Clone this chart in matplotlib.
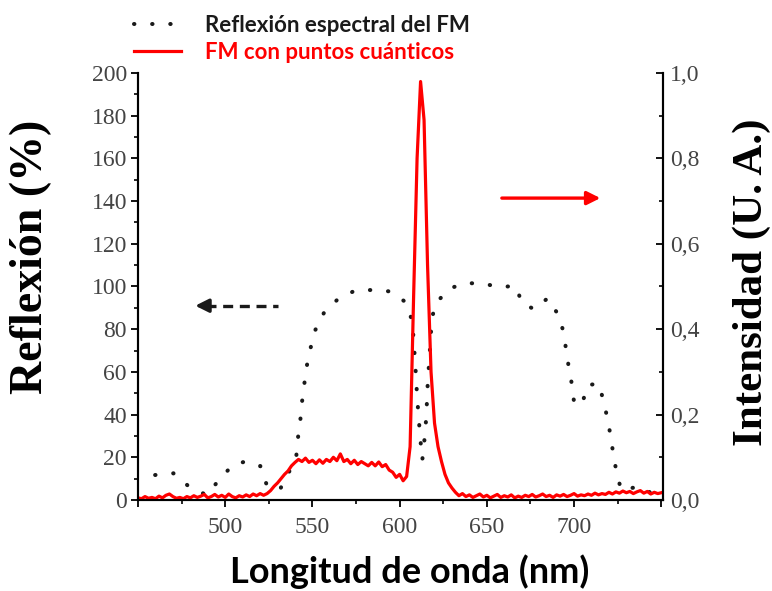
import numpy as np
import matplotlib.pyplot as plt
from matplotlib.ticker import MultipleLocator, FuncFormatter

# Reflexión espectral del FM (eje izquierdo, %)
wl_refl = [459.8, 470.3, 479.9, 489.5, 496.7, 504.4, 511.5, 520.1, 523.6, 531.2,
           536.0, 540.8, 541.8, 543.1, 544.1, 545.4, 546.9, 548.9, 551.7, 556.5,
           565.1, 574.3, 584.7, 594.3, 602.9, 606.9, 607.9, 609.2, 609.8, 610.5,
           611.3, 612.1, 613.0, 614.0, 614.9, 615.5, 615.9, 616.5, 617.2, 618.4,
           620.7, 628.9, 638.5, 648.1, 657.5, 666.3, 670.5, 677.2, 684.9, 691.0,
           693.9, 695.4, 696.9, 698.7, 700.2, 705.0, 707.9, 714.2, 717.0, 719.3,
           721.2, 722.6, 724.5, 727.0, 737.0, 745.0]
refl = [11.7, 12.5, 5.8, 2.3, 9.7, 16.4, 18.0, 15.9, 7.5, 4.7,
        12.0, 21.1, 29.7, 37.8, 46.4, 54.7, 63.3, 71.1, 79.7, 87.5,
        94.5, 98.0, 98.4, 97.7, 93.0, 84.7, 76.6, 60.2, 51.6, 43.0,
        34.4, 26.6, 18.8, 26.3, 34.4, 43.0, 51.6, 59.7, 68.0, 84.7,
        92.2, 99.2, 101.6, 101.3, 99.7, 100.3, 91.9, 89.4, 94.5, 86.7,
        78.9, 70.6, 62.5, 54.4, 44.5, 46.1, 53.9, 54.4, 46.1, 37.5,
        28.9, 20.8, 12.5, 4.7, 6.2, 3.0]

# FM con puntos cuánticos (eje derecho, U. A.), cada 2 nm de 450 a 750
wl_int = np.arange(450, 751, 2)
intensity = [
    0.005, 0.003, 0.008, 0.004, 0.006, 0.003, 0.009, 0.005, 0.011, 0.014,  # 450
    0.008, 0.004, 0.006, 0.003, 0.008, 0.005, 0.010, 0.006, 0.009, 0.013,  # 470
    0.005, 0.008, 0.013, 0.007, 0.011, 0.006, 0.014, 0.008, 0.005, 0.010,  # 490
    0.007, 0.012, 0.008, 0.014, 0.010, 0.015, 0.011, 0.015, 0.022, 0.032,  # 510
    0.040, 0.050, 0.060, 0.068, 0.080, 0.088, 0.095, 0.090, 0.098, 0.088,  # 530
    0.093, 0.085, 0.094, 0.086, 0.095, 0.090, 0.100, 0.092, 0.108, 0.090,  # 550
    0.095, 0.085, 0.093, 0.083, 0.090, 0.085, 0.080, 0.088, 0.080, 0.089,  # 570
    0.078, 0.083, 0.070, 0.065, 0.053, 0.060, 0.045, 0.055, 0.125, 0.475,  # 590
    0.800, 0.980, 0.890, 0.550, 0.300, 0.180, 0.125, 0.090, 0.060, 0.040,  # 610
    0.028, 0.018, 0.010, 0.015, 0.008, 0.012, 0.006, 0.010, 0.014, 0.007,  # 630
    0.011, 0.005, 0.009, 0.013, 0.006, 0.010, 0.007, 0.012, 0.005, 0.009,  # 650
    0.006, 0.011, 0.008, 0.013, 0.007, 0.010, 0.014, 0.008, 0.011, 0.006,  # 670
    0.012, 0.009, 0.013, 0.008, 0.011, 0.015, 0.009, 0.012, 0.010, 0.014,  # 690
    0.011, 0.016, 0.012, 0.015, 0.013, 0.018, 0.014, 0.019, 0.016, 0.021,  # 710
    0.017, 0.020, 0.015, 0.019, 0.022, 0.016, 0.020, 0.014, 0.018, 0.015,  # 730
    0.017,                                                                 # 750
]

label_refl = 'Reflexión espectral del FM'
label_int = 'FM con puntos cuánticos'
x_ticklabels = ['', '500', '550', '600', '650', '700', '']

SERIF = 'Liberation Serif'
SANS = 'Lato'
TICK_COLOR = '#444444'

fig = plt.figure(figsize=(7.72, 5.91), dpi=100)
ax = fig.add_axes([0.1788, 0.154, 0.68, 0.7225])

l1, = ax.plot(wl_refl, refl, color='#1a1a1a', lw=2.9,
              linestyle=(0, (0.1, 4.4)), dash_capstyle='round',
              solid_joinstyle='round', label=label_refl)
ax.set_xlim(450, 751)
ax.set_ylim(0, 200)

ax2 = ax.twinx()
l2, = ax2.plot(wl_int, intensity, color='#ff0000', lw=2.3, label=label_int)
ax2.set_ylim(0, 1.0)

# ejes y marcas
for a in (ax, ax2):
    a.spines['top'].set_visible(False)
    for s in a.spines.values():
        s.set_linewidth(1.5)

ax.set_xticks(np.arange(450, 751, 50))
ax.set_xticklabels(x_ticklabels)
ax.xaxis.set_minor_locator(MultipleLocator(25))
ax.yaxis.set_major_locator(MultipleLocator(20))
ax.yaxis.set_minor_locator(MultipleLocator(10))
ax2.yaxis.set_major_locator(MultipleLocator(0.2))
ax2.yaxis.set_minor_locator(MultipleLocator(0.1))
ax2.yaxis.set_major_formatter(FuncFormatter(lambda v, p: f'{v:.1f}'.replace('.', ',')))

ax.tick_params(axis='both', which='major', direction='out', length=5, width=1.3,
               labelsize=17, labelcolor=TICK_COLOR)
ax.tick_params(axis='both', which='minor', direction='out', length=3, width=1.2)
ax.tick_params(axis='x', pad=7)
ax.tick_params(axis='y', pad=3)
ax2.tick_params(axis='y', which='major', direction='in', length=5, width=1.3,
                labelsize=17, labelcolor=TICK_COLOR, pad=5)
ax2.tick_params(axis='y', which='minor', direction='in', length=3, width=1.2)
for lab in ax.get_xticklabels() + ax.get_yticklabels() + ax2.get_yticklabels():
    lab.set_fontfamily(SERIF)

# etiquetas de ejes
fig.text(0.040, 0.566, 'Reflexión (%)', rotation=90, ha='center', va='center',
         fontsize=33, fontweight='bold', family=SERIF)
fig.text(0.974, 0.523, 'Intensidad (U. A.)', rotation=90, ha='center', va='center',
         fontsize=31, fontweight='bold', family=SERIF)
fig.text(0.531, 0.032, 'Longitud de onda (nm)', ha='center', va='center',
         fontsize=26, fontweight='bold', family=SANS)

# flechas indicando el eje de cada curva
ax.plot([489, 530.5], [91, 91], color='#1a1a1a', lw=2.4, linestyle=(0, (3, 2)))
ax.annotate('', xy=(482.8, 91), xytext=(490, 91),
            arrowprops=dict(arrowstyle='-|>', color='#1a1a1a', lw=2.4,
                            mutation_scale=20, shrinkA=0, shrinkB=0))
ax.annotate('', xy=(715.1, 141.4), xytext=(658.6, 141.4),
            arrowprops=dict(arrowstyle='-|>', color='#ff0000', lw=2.4,
                            mutation_scale=20, shrinkA=0, shrinkB=0))

# leyenda
leg = fig.legend(handles=[l1, l2], loc='upper left', bbox_to_anchor=(0.148, 1.008),
                 frameon=False, prop={'family': SANS, 'weight': 'bold', 'size': 16},
                 handlelength=2.1, handletextpad=1.1, labelspacing=0.25)
leg.get_texts()[0].set_color('#1a1a1a')
leg.get_texts()[1].set_color('#ff0000')

fig.savefig('out.png', dpi=100)
